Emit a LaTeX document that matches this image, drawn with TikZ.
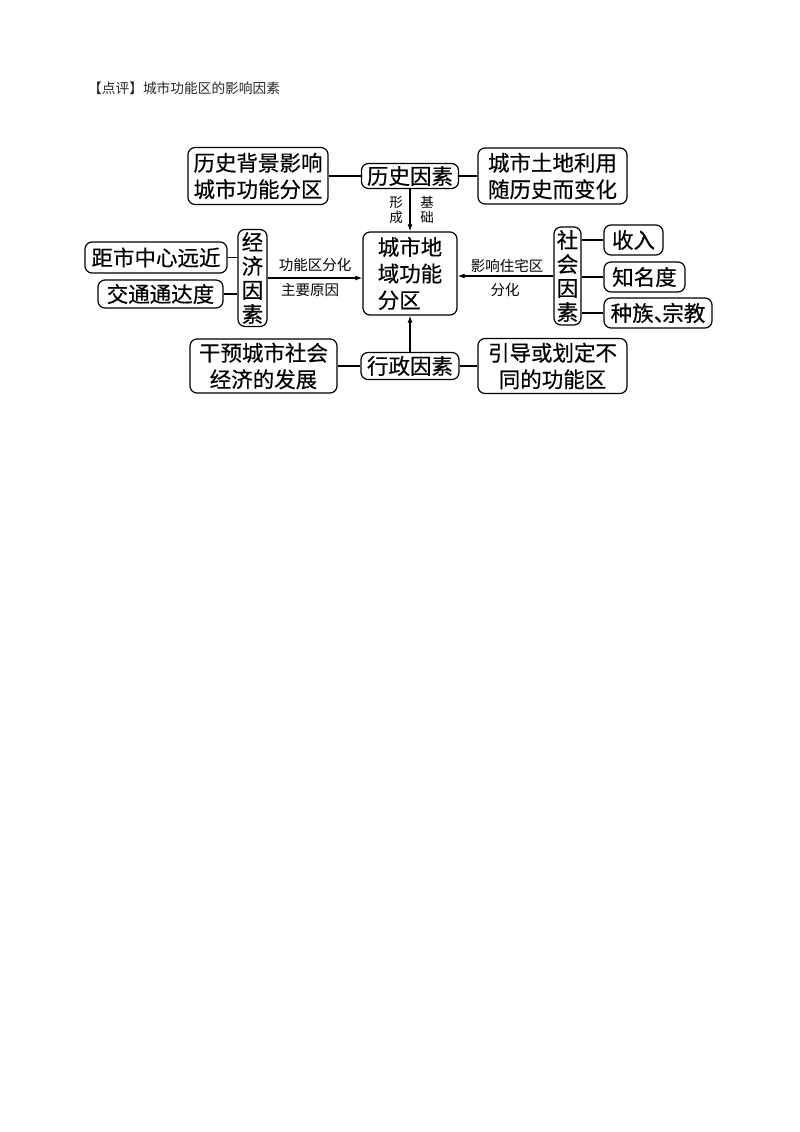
\documentclass[tikz,border=0pt]{standalone}
\usepackage{fontspec}
\setmainfont{Noto Sans CJK SC}
\newfontfamily\boxcjk[FakeBold=0.4]{Noto Sans CJK SC}
\usetikzlibrary{arrows.meta}
\begin{document}
\begin{tikzpicture}[x=1pt,y=-1pt,
  box/.style={draw, rounded corners=7pt, line width=1.2pt, inner sep=0pt, align=center,
    font=\boxcjk\fontsize{21.5}{26.5}\selectfont},
  vbox/.style={box, font=\boxcjk\fontsize{21.5}{24}\selectfont},
  lbl/.style={inner sep=0pt, font=\fontsize{14.5}{16}\selectfont},
  vlbl/.style={inner sep=0pt, align=center, font=\fontsize{13.5}{15.5}\selectfont},
  ln/.style={line width=1.2pt},
  arr/.style={line width=1.2pt, -{Latex[length=7pt,width=5pt]}}]
\useasboundingbox (0,0) rectangle (800,1132);
\node[anchor=west, inner sep=0pt, font=\fontsize{13.7}{15}\selectfont, text=black!85] (title) at (88,88) {【点评】城市功能区的影响因素};
% top row
\node[box, minimum width=140pt, minimum height=57pt] (hbg) at (258,176) {历史背景影响\\城市功能分区};
\node[box, minimum width=97pt, minimum height=25pt] (hist) at (410,176) {历史因素};
\node[box, minimum width=149pt, minimum height=56pt] (land) at (552.5,176) {城市土地利用\\随历史而变化};
% centre
\node[box, minimum width=94pt, minimum height=83pt, align=left] (ctr) at (410,273.5) {城市地\\域功能\\分区};
% right
\node[vbox, minimum width=27pt, minimum height=98pt] (soc) at (567.5,276) {社\\会\\因\\素};
\node[box, minimum width=59pt, minimum height=30pt] (inc) at (633.5,240) {收入};
\node[box, minimum width=81pt, minimum height=30pt] (fame) at (644.5,277) {知名度};
\node[box, minimum width=108pt, minimum height=30pt] (race) at (658,313) {种族、\kern-0.6em宗教};
% left
\node[box, minimum width=142pt, minimum height=31pt] (dist) at (156,257.5) {距市中心远近};
\node[box, minimum width=125pt, minimum height=28pt] (traf) at (160.5,294) {交通通达度};
\node[vbox, minimum width=29pt, minimum height=97pt] (econ) at (252.5,278) {经\\济\\因\\素};
% bottom
\node[box, minimum width=147pt, minimum height=54pt] (gan) at (263.5,366) {干预城市社会\\经济的发展};
\node[box, minimum width=98pt, minimum height=27pt] (adm) at (410,366) {行政因素};
\node[box, minimum width=149pt, minimum height=55pt] (guide) at (552.5,366) {引导或划定不\\同的功能区};
% connectors
\draw[ln] (hbg.east) -- (hist.west);
\draw[ln] (hist.east) -- (land.west);
\draw[arr] (hist.south) -- (ctr.north);
\node[vlbl] (xc) at (396,210) {形\\成};
\node[vlbl] (jc) at (427,210) {基\\础};
\draw[ln] (inc.west) -- (inc.west -| soc.east);
\draw[ln] (fame.west) -- (fame.west -| soc.east);
\draw[ln] (race.west) -- (race.west -| soc.east);
\draw[arr] (soc.west) -- (soc.west -| ctr.east);
\node[lbl] (ya) at (507,266) {影响住宅区};
\node[lbl] (yb) at (505,290) {分化};
\draw[ln] (dist.east) -- (dist.east -| econ.west);
\draw[ln] (traf.east) -- (traf.east -| econ.west);
\draw[arr] (econ.east) -- (econ.east -| ctr.west);
\node[lbl] (ga) at (315,265) {功能区分化};
\node[lbl] (gb) at (310,290) {主要原因};
\draw[ln] (gan.east) -- (adm.west);
\draw[ln] (adm.east) -- (guide.west);
\draw[arr] (adm.north) -- (ctr.south);
\end{tikzpicture}
\end{document}
